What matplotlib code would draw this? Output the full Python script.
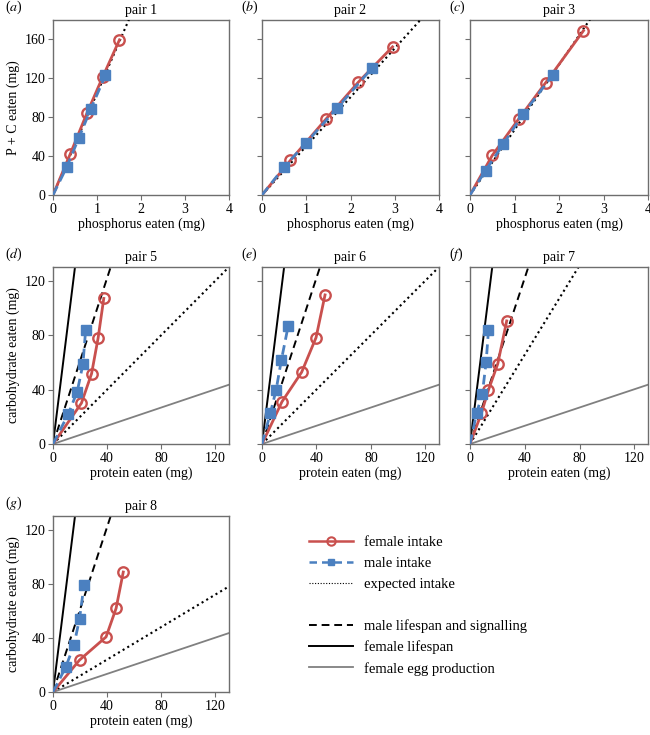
import matplotlib
matplotlib.use("Agg")
import matplotlib.pyplot as plt
from matplotlib.lines import Line2D
import numpy as np

plt.rcParams['font.family'] = ['Liberation Serif', 'DejaVu Serif']
plt.rcParams['mathtext.fontset'] = 'stix'

# ---- data: phosphorus panels (a-c) ----
p_titles = ["pair 1", "pair 2", "pair 3"]
p_letters = ["a", "b", "c"]
p_female_x = [[0.39, 0.77, 1.13, 1.51], [0.64, 1.45, 2.18, 2.95], [0.50, 1.10, 1.70, 2.55]]
p_female_y = [[42, 84, 121.5, 159.5], [35.5, 78.3, 116.2, 152.4], [40.7, 78.6, 115.5, 169]]
p_male_x = [[0.31, 0.59, 0.86, 1.19], [0.50, 1.00, 1.69, 2.49], [0.35, 0.75, 1.20, 1.86]]
p_male_y = [[28.6, 59, 88.6, 123], [28.6, 53.8, 89, 130.7], [25.2, 52.4, 83.8, 123.4]]
p_expected_slope = [104.6, 50.3, 67.0]

# ---- data: protein/carbohydrate panels (d-g) ----
c_titles = ["pair 5", "pair 6", "pair 7", "pair 8"]
c_letters = ["d", "e", "f", "g"]
c_female_x = [[21, 28.5, 33.3, 37.5], [14.7, 29.1, 39.7, 46.3], [8.3, 13.5, 20.3, 26.8], [19.6, 39.2, 46.6, 51.9]]
c_female_y = [[30.0, 51.7, 77.7, 106.9], [31.1, 52.7, 78.2, 109.5], [22.5, 39.7, 59.0, 90.4], [23.6, 40.7, 61.8, 88.6]]
c_male_x = [[11.4, 17.9, 22.1, 24.1], [6.1, 10.4, 14.2, 19.2], [4.8, 9.0, 11.8, 13.5], [9.4, 15.5, 19.6, 22.9]]
c_male_y = [[22.3, 38.5, 58.6, 83.6], [22.5, 39.9, 61.5, 86.5], [22.5, 37.0, 60.3, 83.6], [18.4, 34.6, 54.2, 78.8]]
c_expected_slope = [1.0, 1.0, 1.64, 0.60]
male_lifespan_slope = 3.05
female_lifespan_slope = 8.0
egg_production_slope = 0.335

RED = "#c9504e"
BLUE = "#4b80c0"
SPINE = "#6e6e6e"
FS = 10

fig = plt.figure(figsize=(6.5, 7.35), dpi=100)
W, H = 650.0, 735.0

def make_ax(l, t, r, b):
    return fig.add_axes([l / W, 1 - b / H, (r - l) / W, (b - t) / H])

def style(ax):
    for s in ax.spines.values():
        s.set_color(SPINE)
        s.set_linewidth(1.0)
    ax.tick_params(direction='out', length=3.5, width=0.8, color=SPINE, labelsize=FS, pad=2)

def plot_series(ax, fx, fy, mx, my):
    ax.plot([0] + list(fx), [0] + list(fy), color=RED, lw=2.0, marker='o', ms=7.5,
            mfc='none', mec=RED, mew=1.7, markevery=list(range(1, len(fx) + 1)), zorder=4)
    ax.plot([0] + list(mx), [0] + list(my), color=BLUE, lw=2.0, ls=(0, (3.5, 2)), marker='s', ms=6.5,
            mfc=BLUE, mec=BLUE, markevery=list(range(1, len(mx) + 1)), zorder=5)

cols = [(53, 229), (262, 439), (470, 648)]
rows = [(20, 195), (267, 444), (516, 692)]

# Phosphorus panels
for i in range(3):
    l, r = cols[i]
    t, b = rows[0]
    ax = make_ax(l, t, r, b)
    style(ax)
    xs = np.array([0, 4])
    ax.plot(xs, p_expected_slope[i] * xs, color='black', lw=1.5, ls=(0, (1, 1.6)), zorder=3)
    plot_series(ax, p_female_x[i], p_female_y[i], p_male_x[i], p_male_y[i])
    ax.set_xlim(0, 4)
    ax.set_ylim(0, 180)
    ax.set_xticks([0, 1, 2, 3, 4])
    ax.set_yticks([0, 40, 80, 120, 160])
    if i == 0:
        ax.set_ylabel("P + C eaten (mg)", fontsize=FS, labelpad=3)
    else:
        ax.set_yticklabels([])
    ax.set_xlabel("phosphorus eaten (mg)", fontsize=FS, labelpad=1)
    ax.set_title(p_titles[i], fontsize=FS, pad=4)
    ax.text(-0.27 if i == 0 else -0.12, 1.02, "(" + "$\\it{" + p_letters[i] + "}$" + ")",
            transform=ax.transAxes, fontsize=FS, ha='left', va='bottom')

# Protein panels
pos = [(0, 1), (1, 1), (2, 1), (0, 2)]
for k in range(4):
    ci, ri = pos[k]
    l, r = cols[ci]
    t, b = rows[ri]
    ax = make_ax(l, t, r, b)
    style(ax)
    xs = np.array([0, 200])
    ax.plot(xs, female_lifespan_slope * xs, color='black', lw=1.4, zorder=2)
    ax.plot(xs, male_lifespan_slope * xs, color='black', lw=1.4, ls=(0, (4, 2.5)), zorder=2)
    ax.plot(xs, c_expected_slope[k] * xs, color='black', lw=1.5, ls=(0, (1, 1.6)), zorder=2)
    ax.plot(xs, egg_production_slope * xs, color='#808080', lw=1.3, zorder=2)
    plot_series(ax, c_female_x[k], c_female_y[k], c_male_x[k], c_male_y[k])
    ax.set_xlim(0, 130)
    ax.set_ylim(0, 130)
    ax.set_xticks([0, 40, 80, 120])
    ax.set_yticks([0, 40, 80, 120])
    if ci == 0:
        ax.set_ylabel("carbohydrate eaten (mg)", fontsize=FS, labelpad=3)
    else:
        ax.set_yticklabels([])
    ax.set_xlabel("protein eaten (mg)", fontsize=FS, labelpad=1)
    ax.set_title(c_titles[k], fontsize=FS, pad=4)
    ax.text(-0.27 if ci == 0 else -0.12, 1.02, "(" + "$\\it{" + c_letters[k] + "}$" + ")",
            transform=ax.transAxes, fontsize=FS, ha='left', va='bottom')

handles = [
    Line2D([], [], color=RED, lw=1.8, marker='o', ms=6, mfc='none', mec=RED, mew=1.5),
    Line2D([], [], color=BLUE, lw=1.8, ls=(0, (3, 2)), marker='s', ms=5, mfc=BLUE, mec=BLUE),
    Line2D([], [], color='black', lw=0.8, ls=(0, (1, 1.5))),
    Line2D([], [], color='none'),
    Line2D([], [], color='black', lw=1.4, ls=(0, (4, 2.5))),
    Line2D([], [], color='black', lw=1.4),
    Line2D([], [], color='#808080', lw=1.3),
]
labels = ["female intake", "male intake", "expected intake", "",
          "male lifespan and signalling", "female lifespan", "female egg production"]
fig.legend(handles, labels, loc='upper left', bbox_to_anchor=(303 / W, 1 - 530 / H),
           frameon=False, fontsize=10.5, handlelength=3.0, handletextpad=0.8, labelspacing=0.52,
           borderaxespad=0)

fig.savefig("out.png", dpi=100)
